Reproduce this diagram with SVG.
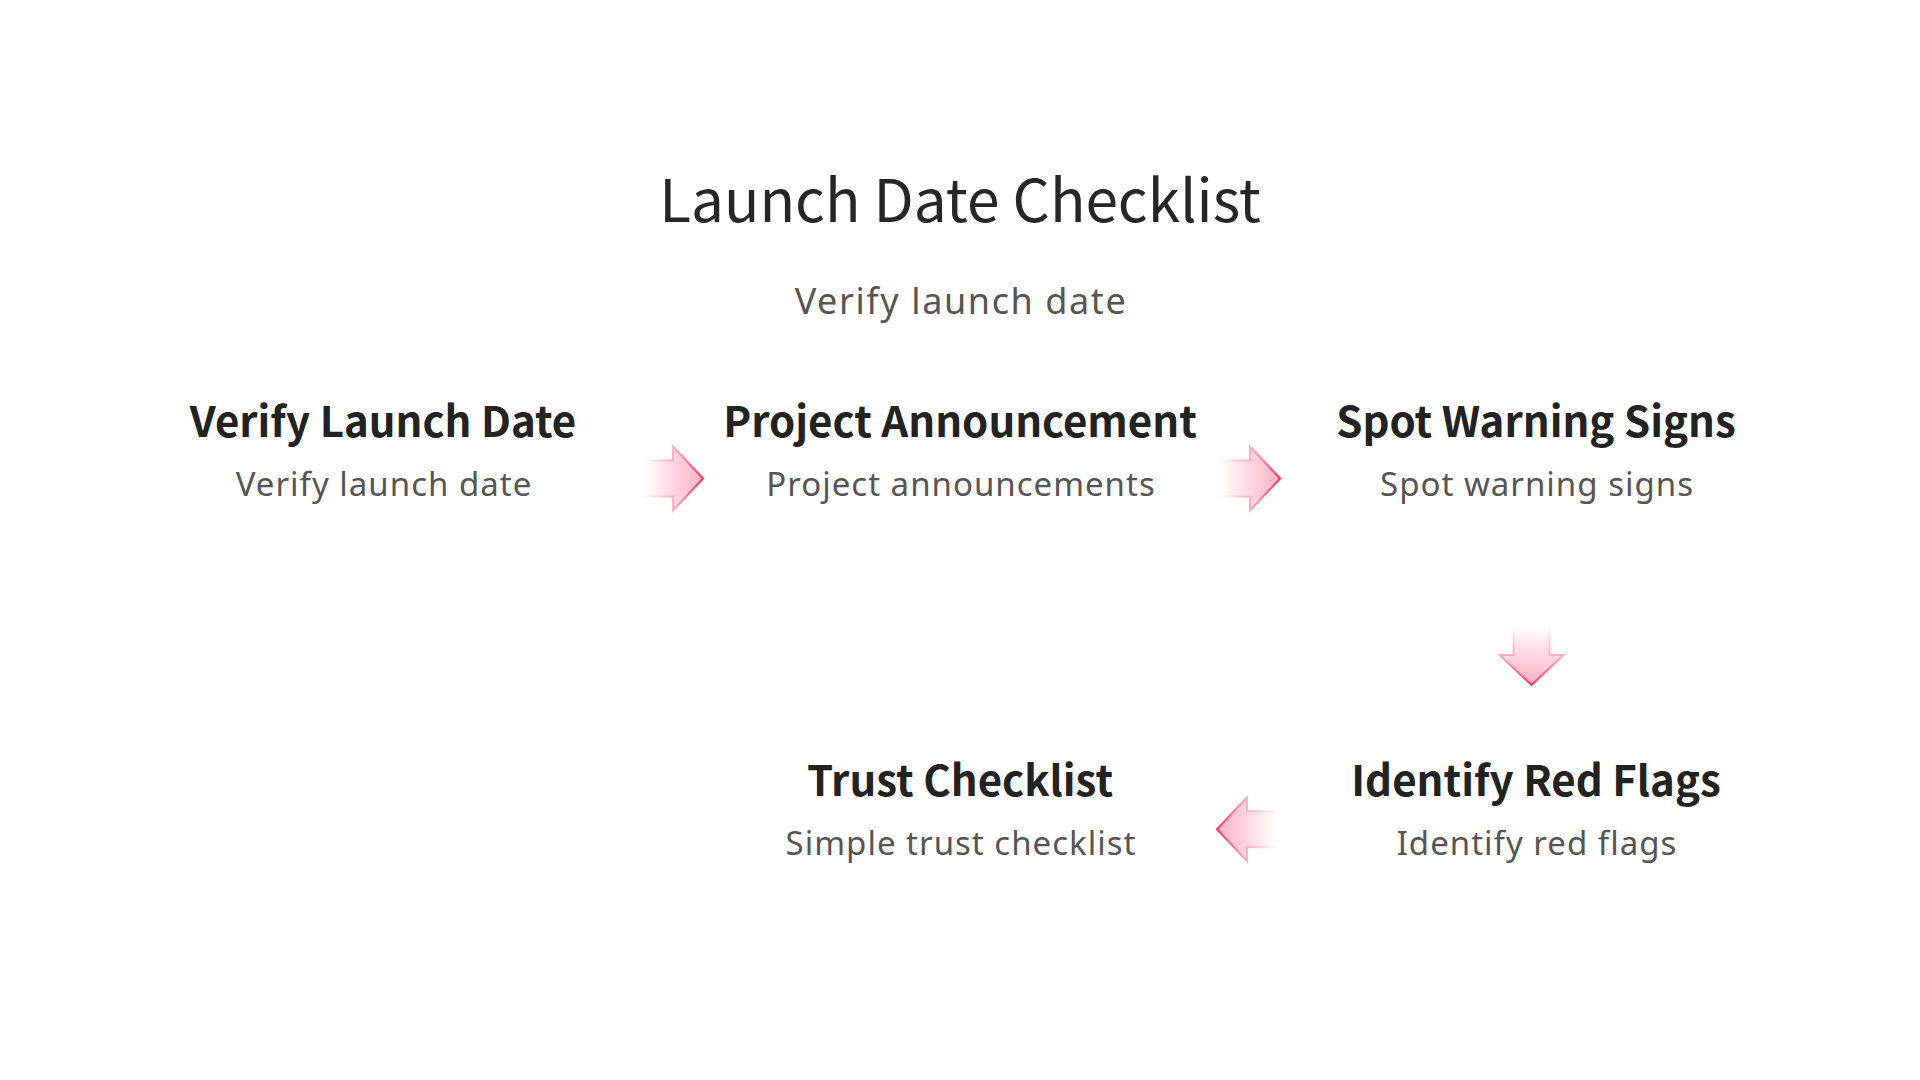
<svg xmlns="http://www.w3.org/2000/svg" width="1920" height="1080" viewBox="0 0 1920 1080">
  <style>
    text { font-family: "Noto Sans CJK SC", "Noto Sans", sans-serif; text-anchor: middle; }
    .title { font-size: 58.5px; fill: #262626; }
    .subtitle { font-family: "Noto Sans", sans-serif; font-size: 36px; letter-spacing: 1.6px; fill: #555555; }
    .ntitle { font-size: 42px; font-weight: bold; fill: #222222; }
    .nsub { font-family: "Noto Sans", sans-serif; font-size: 33px; letter-spacing: 1px; fill: #555555; }
    .arrow { fill: url(#afill); stroke: url(#astroke); stroke-width: 2; stroke-linejoin: miter; }
  </style>
  <defs>
    <linearGradient id="afill" x1="0" y1="0" x2="1" y2="0">
      <stop offset="0" stop-color="#ff7a9a" stop-opacity="0"/>
      <stop offset="0.5" stop-color="#ff7a9a" stop-opacity="0.3"/>
      <stop offset="1" stop-color="#ff7a9a" stop-opacity="0.6"/>
    </linearGradient>
    <linearGradient id="astroke" x1="0" y1="0" x2="1" y2="0">
      <stop offset="0" stop-color="#ffb0c4" stop-opacity="0"/>
      <stop offset="0.5" stop-color="#ffa8bd" stop-opacity="0.9"/>
      <stop offset="1" stop-color="#ff2d60"/>
    </linearGradient>
    <polygon id="arr" class="arrow" points="0,-18 30,-18 30,-32 60,0 30,32 30,18 0,18"/>
  </defs>
  <rect width="1920" height="1080" fill="#ffffff"/>
  <g id="header">
    <text class="title" x="960" y="222">Launch Date Checklist</text>
    <text class="subtitle" x="961" y="314">Verify launch date</text>
  </g>
  <g id="node-verify">
    <text class="ntitle" x="383" y="437">Verify Launch Date</text>
    <text class="nsub" x="384" y="496">Verify launch date</text>
  </g>
  <g id="node-announcement">
    <text class="ntitle" x="960" y="437">Project Announcement</text>
    <text class="nsub" x="961" y="496">Project announcements</text>
  </g>
  <g id="node-warning">
    <text class="ntitle" x="1536" y="437">Spot Warning Signs</text>
    <text class="nsub" x="1537" y="496">Spot warning signs</text>
  </g>
  <g id="node-redflags">
    <text class="ntitle" x="1536" y="796">Identify Red Flags</text>
    <text class="nsub" x="1537" y="855">Identify red flags</text>
  </g>
  <g id="node-trust">
    <text class="ntitle" x="960" y="796">Trust Checklist</text>
    <text class="nsub" x="961" y="855">Simple trust checklist</text>
  </g>
  <g id="connectors">
    <use href="#arr" transform="translate(643,478.5)"/>
    <use href="#arr" transform="translate(1220,478.5)"/>
    <use href="#arr" transform="translate(1531.5,625) rotate(90)"/>
    <use href="#arr" transform="translate(1277,829.3) rotate(180)"/>
  </g>
</svg>
